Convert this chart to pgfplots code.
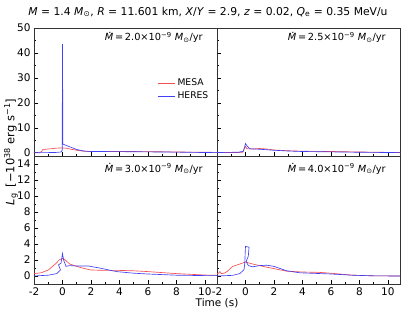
\documentclass[border=0pt]{standalone}
\usepackage{fontspec}
\setmainfont{DejaVu Sans}
\usepackage{pgfplots}
\pgfplotsset{compat=1.18}
\definecolor{mesa}{rgb}{0.97,0.3,0.3}
\definecolor{heres}{rgb}{0.25,0.25,0.97}
\newcommand{\dotM}{{\ooalign{\textit{M}\cr\hidewidth\raisebox{0.8em}{\kern0.15em.}\hidewidth\cr}}}
\newcommand{\Mdot}[1]{\dotM\,=\,#1×10\textsuperscript{−9} \textit{M}\textsubscript{⊙}/yr}
\pgfplotsset{panel/.style={scale only axis, width=183pt, height=128pt,
  xmin=-2, xmax=10.85, xtick={-2,0,...,10}, minor x tick num=1,
  tick align=inside, xtick pos=bottom, ytick pos=left,
  major tick length=4pt, minor tick length=2pt,
  axis line style={line width=0.6pt, black!80},
  tick style={black, line width=0.5pt},
  ticklabel style={font=\fontsize{10.5}{12}\selectfont},
  /pgf/number format/assume math mode=true,
  every axis plot/.append style={line width=0.65pt, mark=none}},
  toppanel/.style={panel, ymin=-1.3, ymax=50, ytick={0,10,...,50}, minor y tick num=1, xticklabels={}},
  botpanel/.style={panel, ymin=-1, ymax=15, ytick={0,2,...,14}, minor y tick num=1}}
\begin{document}
\begin{tikzpicture}
\useasboundingbox (0,0) rectangle (415pt,312pt);
% top-left
\begin{axis}[toppanel, at={(34pt,156pt)}, anchor=south west,
  legend style={at={(axis description cs:0.82,0.52)}, anchor=center, draw=none, fill=none,
    font=\fontsize{9.2}{11}\selectfont, row sep=0.5pt},
  legend cell align=left]
\addplot[mesa] coordinates {(-2,0.15) (-1.6,0.15) (-1.45,0.5) (-1.4,1.2) (-1.2,1.4) (-0.8,1.6) (-0.4,1.85) (0,1.95) (0.3,1.8) (0.6,1.4) (1.0,1.0) (1.5,0.6) (2,0.5) (4,0.5) (6,0.45) (8,0.3) (10,0.2) (10.85,0.15)};
\addlegendentry{MESA}
\addplot[heres] coordinates {(-2,0) (-0.5,0.1) (-0.1,0.3) (-0.02,1) (0,43.5) (0.03,3.5) (0.1,3.3) (0.5,2.4) (1,1.3) (1.5,0.7) (2,0.5) (4,0.45) (6,0.35) (8,0.25) (10,0.1) (10.85,0.05)};
\addlegendentry{HERES}
\node[anchor=center, font=\fontsize{9.8}{11}\selectfont] at (axis description cs:0.655,0.925) {\Mdot{2.0}};
\end{axis}
% top-right
\begin{axis}[toppanel, at={(217pt,156pt)}, anchor=south west, yticklabels={}]
\addplot[mesa] coordinates {(-2,0.1) (-0.5,0.1) (-0.2,0.2) (-0.1,1.5) (0,2.6) (0.1,1.6) (0.5,1.5) (1,1.7) (1.5,1.5) (2,1.1) (3,0.8) (4,0.6) (6,0.5) (8,0.3) (10,0.15) (10.85,0.1)};
\addplot[heres] coordinates {(-2,0.1) (-0.5,0.2) (-0.15,0.6) (-0.05,2.5) (0,3.7) (0.1,2.8) (0.3,1.6) (1,1.4) (2,1.0) (3,0.7) (4,0.5) (6,0.35) (8,0.2) (10,0.1) (10.85,0.05)};
\node[anchor=center, font=\fontsize{9.8}{11}\selectfont] at (axis description cs:0.655,0.925) {\Mdot{2.5}};
\end{axis}
% bottom-left
\begin{axis}[botpanel, at={(34pt,28pt)}, anchor=south west]
\addplot[mesa] coordinates {(-2,0.3) (-1.5,0.4) (-1,0.75) (-0.5,1.5) (-0.2,2.05) (0,2.2) (0.2,2.0) (0.5,1.5) (1,1.2) (1.5,0.95) (2,0.75) (3,0.7) (4,0.7) (5,0.65) (6,0.55) (8,0.3) (10,0.12) (10.85,0.08)};
\addplot[heres] coordinates {(-2,0) (-1,0.1) (-0.4,0.3) (-0.14,0.75) (-0.28,1.4) (-0.1,1.6) (0,2.8) (0.08,2.0) (0.25,1.2) (0.5,1.3) (1,1.25) (1.8,1.25) (2.6,1.0) (3.8,0.55) (5,0.35) (6,0.25) (8,0.1) (10,0.05) (10.85,0.05)};
\node[anchor=center, font=\fontsize{9.8}{11}\selectfont] at (axis description cs:0.655,0.9) {\Mdot{3.0}};
\end{axis}
% bottom-right
\begin{axis}[botpanel, at={(217pt,28pt)}, anchor=south west, yticklabels={}]
\addplot[mesa] coordinates {(-2,0.25) (-1.9,0.35) (-1.8,0.55) (-1.7,0.3) (-1.5,0.35) (-1.3,0.55) (-0.9,1.2) (-0.4,1.5) (0,1.75) (0.5,1.5) (1.5,1.1) (2.9,0.6) (4,0.5) (5.2,0.45) (6,0.35) (7.5,0.1) (9,0.02) (10.85,0)};
\addplot[heres] coordinates {(-2,0) (-0.9,0.08) (-0.4,0.3) (-0.1,0.8) (-0.05,1.6) (0,3.7) (0.25,3.6) (0.2,2.5) (0.05,1.8) (0.2,1.3) (0.5,1.15) (1.0,1.3) (1.5,1.35) (2.0,1.2) (2.9,0.65) (3.8,0.4) (6,0.25) (7.5,0.1) (9,0.02) (10.85,0)};
\node[anchor=center, font=\fontsize{9.8}{11}\selectfont] at (axis description cs:0.655,0.9) {\Mdot{4.0}};
\end{axis}
\node[font=\fontsize{10.8}{13}\selectfont] at (208pt,300pt) {\textit{M} = 1.4 \textit{M}\textsubscript{⊙}, \textit{R} = 11.601 km, \textit{X}/\textit{Y} = 2.9, \textit{z} = 0.02, \textit{Q}\textsubscript{e} = 0.35 MeV/u};
\node[font=\fontsize{10.5}{12}\selectfont] at (217pt,9pt) {Time (s)};
\node[rotate=90, font=\fontsize{11.5}{13}\selectfont] at (11pt,160pt) {\textit{L}\textsubscript{g}\enspace[−10\textsuperscript{38} erg s\textsuperscript{−1}]};
\end{tikzpicture}
\end{document}
